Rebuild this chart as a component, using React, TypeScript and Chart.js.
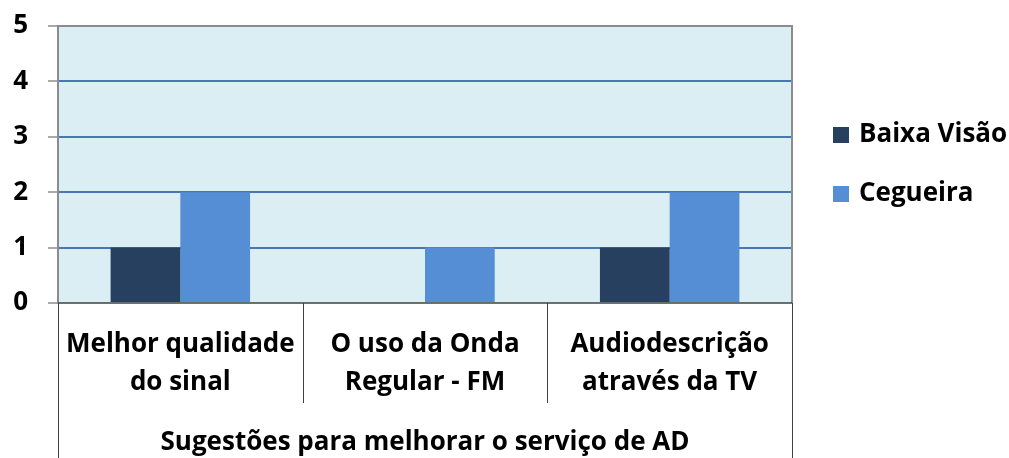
import React, { useEffect, useRef } from "react";
import { Chart, registerables } from "chart.js";

Chart.register(...registerables);

const categories: string[][] = [
  ["Melhor qualidade", "do sinal"],
  ["O uso da Onda", "Regular - FM"],
  ["Audiodescrição", "através da TV"],
];
const seriesNames = ["Baixa Visão", "Cegueira"];
const baixaVisao = [1, 0, 1];
const cegueira = [2, 1, 2];
const yMin = 0;
const yMax = 5;
const yStep = 1;
const groupLabel = "Sugestões para melhorar o serviço de AD";

const COLORS = ["#27405F", "#558ED5"];
const FONT = "'Open Sans', 'DejaVu Sans', sans-serif";
const FONT_SIZE = 26;

const overlay = {
  id: "overlay",
  beforeDraw(chart: any) {
    const { ctx, chartArea: a } = chart;
    ctx.save();
    ctx.fillStyle = "#DBEEF4";
    ctx.fillRect(a.left, a.top, a.right - a.left, a.bottom - a.top);
    ctx.restore();
  },
  afterDraw(chart: any) {
    const { ctx, chartArea: a } = chart;
    const xs = chart.scales.x;
    const H = chart.height;
    ctx.save();
    // plot border
    ctx.strokeStyle = "#8C8C8C";
    ctx.lineWidth = 2;
    ctx.beginPath();
    ctx.moveTo(a.left, a.top);
    ctx.lineTo(a.right, a.top);
    ctx.lineTo(a.right, a.bottom);
    ctx.stroke();
    ctx.strokeStyle = "#404040";
    ctx.lineWidth = 1.5;
    ctx.beginPath();
    ctx.moveTo(a.left, a.bottom);
    ctx.lineTo(a.right, a.bottom);
    ctx.stroke();
    // separators
    const n = categories.length;
    const w = (a.right - a.left) / n;
    ctx.strokeStyle = "#404040";
    ctx.lineWidth = 1;
    for (let i = 0; i <= n; i++) {
      const x = Math.round(a.left + i * w) + 0.5;
      const bottom = i === 0 || i === n ? H : a.bottom + 100;
      ctx.beginPath();
      ctx.moveTo(x, a.bottom);
      ctx.lineTo(x, bottom);
      ctx.stroke();
    }
    // category labels
    ctx.fillStyle = "#000";
    ctx.font = `bold ${FONT_SIZE}px ${FONT}`;
    ctx.textAlign = "center";
    ctx.textBaseline = "middle";
    categories.forEach((lines, i) => {
      const cx = xs.getPixelForValue(i);
      lines.forEach((t, j) => ctx.fillText(t, cx, a.bottom + 42 + j * 38));
    });
    ctx.fillText(groupLabel, (a.left + a.right) / 2, a.bottom + 140);
    // legend
    ctx.textAlign = "left";
    seriesNames.forEach((name, i) => {
      const y = 135 + i * 59;
      ctx.fillStyle = COLORS[i];
      ctx.fillRect(833, y - 8, 16, 16);
      ctx.fillStyle = "#000";
      ctx.fillText(name, 859, y);
    });
    ctx.restore();
  },
};

export default function App() {
  const ref = useRef<HTMLCanvasElement>(null);
  useEffect(() => {
    if (!ref.current) return;
    const chart = new Chart(ref.current, {
      type: "bar",
      data: {
        labels: categories.map((c) => c.join(" ")),
        datasets: [
          { label: seriesNames[0], data: baixaVisao, backgroundColor: COLORS[0] },
          { label: seriesNames[1], data: cegueira, backgroundColor: COLORS[1] },
        ],
      },
      options: {
        animation: false,
        responsive: true,
        maintainAspectRatio: false,
        layout: { padding: { left: 0, top: 26, right: 217, bottom: 155 } },
        plugins: { legend: { display: false }, tooltip: { enabled: false } },
        datasets: { bar: { categoryPercentage: 0.57, barPercentage: 1 } },
        scales: {
          x: { display: false },
          y: {
            min: yMin,
            max: yMax,
            ticks: {
              stepSize: yStep,
              color: "#000",
              padding: 20,
              font: { family: FONT, size: FONT_SIZE, weight: "bold" },
            },
            grid: {
              color: (c: any) =>
                c.tick && (c.tick.value === yMin || c.tick.value === yMax) ? "rgba(0,0,0,0)" : "#4777B4",
              lineWidth: 2,
              tickColor: "#8C8C8C",
              tickLength: 10,
              tickWidth: 1.5,
            },
            border: { display: true, color: "#8C8C8C", width: 2 },
            afterFit: (s: any) => {
              s.width = 58;
              s.paddingTop = 0;
              s.paddingBottom = 0;
            },
          },
        },
      },
      plugins: [overlay],
    });
    return () => chart.destroy();
  }, []);
  return (
    <div style={{ position: "fixed", left: 0, top: 0, width: 1009, height: 458, background: "#fff" }}>
      <canvas ref={ref} />
    </div>
  );
}
